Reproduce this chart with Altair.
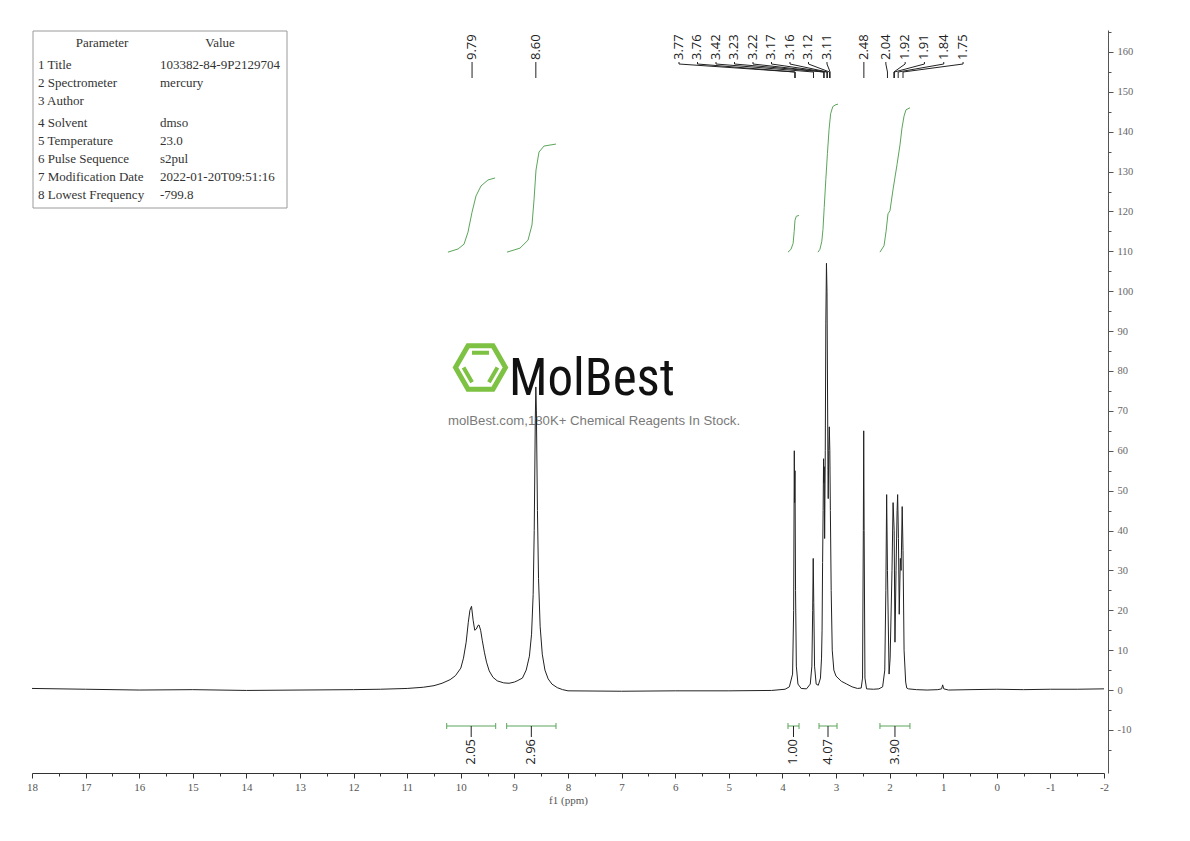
import altair as alt
import pandas as pd

# ---------------- spectrum: (ppm, intensity) vertices ----------------
spec_ppm = [
    18.0, 17.0, 16.0, 15.0, 14.0, 13.0, 12.0, 11.5, 11.0, 10.7, 10.5, 10.35, 10.2, 10.1,
    10.0, 9.95, 9.9, 9.86, 9.83, 9.80, 9.77, 9.74, 9.71, 9.68, 9.66, 9.63, 9.60, 9.56,
    9.52, 9.47, 9.40, 9.32, 9.2, 9.1, 9.0, 8.95, 8.85, 8.78, 8.72, 8.68, 8.65, 8.63,
    8.61, 8.60, 8.59, 8.57, 8.55, 8.52, 8.48, 8.43, 8.37, 8.30, 8.2, 8.1, 8.0, 7.0,
    6.0, 5.0, 4.2, 3.95, 3.87, 3.81, 3.79, 3.778, 3.772, 3.765, 3.755, 3.74, 3.71, 3.65,
    3.55, 3.48, 3.45, 3.435, 3.425, 3.415, 3.40, 3.37, 3.33, 3.29, 3.27, 3.26, 3.25, 3.24,
    3.232, 3.226, 3.22, 3.212, 3.20, 3.19, 3.178, 3.168, 3.16, 3.15, 3.145, 3.135, 3.125, 3.115,
    3.105, 3.09, 3.07, 3.04, 3.0, 2.9, 2.8, 2.7, 2.6, 2.53, 2.505, 2.49, 2.483, 2.475,
    2.46, 2.43, 2.3, 2.2, 2.13, 2.09, 2.07, 2.055, 2.04, 2.01, 1.99, 1.955, 1.935, 1.915,
    1.90, 1.88, 1.86, 1.85, 1.835, 1.82, 1.80, 1.785, 1.765, 1.75, 1.73, 1.70, 1.68, 1.65,
    1.5, 1.3, 1.1, 1.03, 1.01, 0.99, 0.9, 0.5, 0.0, -0.5, -1.0, -1.5, -2.0,
]
spec_val = [
    0.4, 0.2, 0.0, 0.1, -0.1, 0.0, 0.1, 0.2, 0.4, 0.7, 1.1, 1.7, 2.6, 3.6,
    5.5, 8.0, 12.0, 17.0, 20.0, 21.0, 17.5, 15.0, 15.3, 16.2, 16.3, 15.0, 12.5, 9.5,
    7.0, 4.8, 3.2, 2.3, 1.8, 1.7, 2.0, 2.3, 3.0, 5.0, 8.5, 14.0, 24.0, 40.0,
    68.0, 76.0, 70.0, 45.0, 28.0, 16.0, 9.0, 5.0, 2.8, 1.5, 0.6, 0.1, -0.2, -0.3,
    -0.2, -0.2, -0.1, 0.2, 0.8, 4.0, 20.0, 60.0, 47.0, 55.0, 25.0, 6.0, 1.5, 0.4,
    0.3, 1.5, 6.0, 20.0, 33.0, 22.0, 6.0, 1.5, 1.2, 3.0, 8.0, 15.0, 32.0, 45.0,
    58.0, 52.0, 56.0, 38.0, 60.0, 92.0, 107.0, 100.0, 80.0, 55.0, 48.0, 60.0, 66.0, 60.0,
    45.0, 25.0, 10.0, 5.0, 3.5, 2.2, 1.5, 0.8, 0.4, 0.5, 3.0, 40.0, 65.0, 40.0,
    3.0, 0.3, 0.2, 0.3, 0.8, 5.0, 25.0, 49.0, 30.0, 4.0, 8.0, 30.0, 47.0, 40.0,
    12.0, 30.0, 45.0, 49.0, 38.0, 19.0, 33.0, 30.0, 46.0, 35.0, 10.0, 2.0, 0.5, 0.3,
    0.1, 0.0, 0.1, 0.3, 1.3, 0.3, 0.0, 0.1, 0.2, 0.1, 0.2, 0.2, 0.3,
]
assert len(spec_ppm) == len(spec_val)

# ---------------- integral curves ----------------
int1_ppm = [10.24, 10.05, 9.94, 9.866, 9.791, 9.716, 9.623, 9.493, 9.36]
int1_val = [109.8, 110.6, 111.8, 114.8, 119.8, 123.9, 126.4, 127.9, 128.4]
int2_ppm = [9.138, 8.896, 8.746, 8.672, 8.634, 8.597, 8.541, 8.448, 8.224]
int2_val = [109.8, 110.8, 112.8, 116.6, 122.9, 130.4, 134.9, 136.4, 136.9]
int3_ppm = [3.896, 3.84, 3.80, 3.78, 3.765, 3.74, 3.69]
int3_val = [109.8, 110.5, 112.0, 115.0, 117.8, 118.8, 119.0]
int4_ppm = [3.336, 3.30, 3.265, 3.243, 3.22, 3.19, 3.16, 3.13, 3.10, 3.06, 3.0, 2.963]
int4_val = [109.8, 110.5, 112.5, 115.5, 121.0, 128.0, 134.5, 140.5, 144.5, 146.3, 146.8, 146.9]
int5_ppm = [2.18, 2.104, 2.067, 2.03, 1.993, 1.937, 1.862, 1.806, 1.769, 1.731, 1.694, 1.619]
int5_val = [109.8, 111.4, 114.9, 119.4, 120.2, 125.4, 131.7, 136.7, 140.9, 143.9, 145.5, 146.0]

# ---------------- integration brackets ----------------
br_start = [10.263, 9.144, 3.896, 3.317, 2.18]
br_end = [9.349, 8.224, 3.69, 2.981, 1.62]
br_text = ["2.05", "2.96", "1.00", "4.07", "3.90"]

# ---------------- peak picking ----------------
peak_groups = [
    [9.79],
    [8.60],
    [3.77, 3.76, 3.42, 3.23, 3.22, 3.17, 3.16, 3.12, 3.11],
    [2.48],
    [2.04, 1.92, 1.91, 1.84, 1.75],
]

# ---------------- parameter table ----------------
param_header = ["Parameter", "Value"]
param_names = ["1 Title", "2 Spectrometer", "3 Author", "4 Solvent", "5 Temperature",
               "6 Pulse Sequence", "7 Modification Date", "8 Lowest Frequency"]
param_values = ["103382-84-9P2129704", "mercury", "", "dmso", "23.0", "s2pul",
                "2022-01-20T09:51:16", "-799.8"]

watermark_title = "MolBest"
watermark_sub = "molBest.com,180K+ Chemical Reagents In Stock."

# ---------------- axes ticks ----------------
x_major = list(range(18, -3, -1))
x_minor = [v + 0.5 for v in range(17, -3, -1)]
y_major = list(range(-10, 161, 10))
y_minor = list(range(-15, 166, 10))

# ================= layout =================
W, H = 1072, 743
PX_PER_PPM = W / 20.0
xscale = alt.Scale(domain=[18, -2], nice=False, zero=False)
yscale = alt.Scale(domain=[-20.8, 165.5], nice=False, zero=False)
SERIF = "Liberation Serif"
SANS = "Open Sans"
GREEN = "#5aa55a"
INK = "#222222"


def X(field, **kw):
    return alt.X(field, type="quantitative", scale=xscale, axis=None, **kw)


def Y(field):
    return alt.Y(field, type="quantitative", scale=yscale, axis=None)


minus_fix = "replace(datum.label, '\u2212', '-')"

# --- spectrum with main axes ---
spec_df = pd.DataFrame({"ppm": spec_ppm, "val": spec_val})
spectrum = alt.Chart(spec_df).mark_line(color=INK, strokeWidth=1).encode(
    x=alt.X("ppm:Q", scale=xscale, axis=alt.Axis(
        orient="bottom", values=x_major, tickSize=5, tickColor="#333", domainColor="#333",
        labelFont=SERIF, labelFontSize=11, labelColor="#555", labelPadding=3, labelFlush=False,
        labelExpr=minus_fix, grid=False, title="f1 (ppm)", titleFont=SERIF, titleFontSize=11,
        titleFontWeight="normal", titleColor="#555", titlePadding=2)),
    y=alt.Y("val:Q", scale=yscale, axis=alt.Axis(
        orient="right", offset=4, values=y_major, tickSize=5, tickColor="#555",
        domainColor="#555", labelFont=SERIF, labelFontSize=10.5, labelColor="#666",
        labelPadding=4, labelFlush=False, labelExpr=minus_fix, grid=False, title=None)),
)

# --- minor ticks ---
minor = alt.Chart(pd.DataFrame({"ppm": [18.0], "val": [0.0]})).mark_point(opacity=0).encode(
    x=alt.X("ppm:Q", scale=xscale, axis=alt.Axis(
        orient="bottom", values=x_minor, tickSize=3, tickColor="#333", labels=False,
        domain=False, grid=False, title=None)),
    y=alt.Y("val:Q", scale=yscale, axis=alt.Axis(
        orient="right", offset=4, values=y_minor, tickSize=3, tickColor="#555", labels=False,
        domain=False, grid=False, title=None)),
)

# --- integrals ---
int_rows = []
for gi, (pp, vv) in enumerate([(int1_ppm, int1_val), (int2_ppm, int2_val), (int3_ppm, int3_val),
                               (int4_ppm, int4_val), (int5_ppm, int5_val)]):
    for p, v in zip(pp, vv):
        int_rows.append({"grp": gi, "ppm": p, "val": v})
integrals = alt.Chart(pd.DataFrame(int_rows)).mark_line(color=GREEN, strokeWidth=1).encode(
    x=X("ppm"), y=Y("val"), detail="grp:N")

# --- brackets ---
br_df = pd.DataFrame({"s": br_start, "e": br_end, "t": br_text})
br_df["m"] = (br_df["s"] + br_df["e"]) / 2
BR_Y = 696
br_h = alt.Chart(br_df).mark_rule(color=GREEN, strokeWidth=1).encode(
    x=X("s"), x2="e:Q", y=alt.value(BR_Y))
br_l = alt.Chart(br_df).mark_rule(color=GREEN, strokeWidth=1).encode(
    x=X("s"), y=alt.value(BR_Y - 3), y2=alt.value(BR_Y + 3))
br_r = alt.Chart(br_df).mark_rule(color=GREEN, strokeWidth=1).encode(
    x=X("e"), y=alt.value(BR_Y - 3), y2=alt.value(BR_Y + 3))
br_c = alt.Chart(br_df).mark_rule(color=INK, strokeWidth=1).encode(
    x=X("m"), y=alt.value(BR_Y), y2=alt.value(BR_Y + 11))
br_t = alt.Chart(br_df).mark_text(angle=270, align="right", baseline="middle", font=SANS,
                                  fontSize=13, color=INK).encode(
    x=X("m"), y=alt.value(BR_Y + 13), text="t:N")

# --- peak labels ---
group_layout = {2: ("right", 3.168, 18.5), 4: ("left", 2.07, 19.3)}
lab_rows = []
for gi, g in enumerate(peak_groups):
    n = len(g)
    if gi in group_layout:
        mode, anchor, step = group_layout[gi]
        d = step / PX_PER_PPM
        if mode == "right":
            pos = [anchor + (n - 1 - i) * d for i in range(n)]
        else:
            pos = [anchor - i * d for i in range(n)]
    else:
        pos = list(g)
    for p, lp in zip(g, pos):
        lab_rows.append({"peak": p, "lab": lp, "txt": f"{p:.2f}"})
lab_df = pd.DataFrame(lab_rows)
TXT_Y = 30
seg1 = alt.Chart(lab_df).mark_rule(color=INK, strokeWidth=1).encode(
    x=X("lab"), y=alt.value(TXT_Y + 2), y2=alt.value(TXT_Y + 4))
seg2 = alt.Chart(lab_df).mark_rule(color=INK, strokeWidth=1).encode(
    x=X("lab"), x2="peak:Q", y=alt.value(TXT_Y + 4), y2=alt.value(TXT_Y + 12))
seg3 = alt.Chart(lab_df).mark_rule(color=INK, strokeWidth=1).encode(
    x=X("peak"), y=alt.value(TXT_Y + 12), y2=alt.value(TXT_Y + 18))
lab_t = alt.Chart(lab_df).mark_text(angle=270, align="left", baseline="middle", font=SANS,
                                    fontSize=13, color=INK).encode(
    x=X("lab"), y=alt.value(TXT_Y), text="txt:N")

# --- parameter table ---
one = pd.DataFrame({"a": [0]})
TFS = 13
table_layers = [alt.Chart(one).mark_rect(fill="white", stroke="#9a9a9a", strokeWidth=1).encode(
    x=alt.value(1), x2=alt.value(255), y=alt.value(1), y2=alt.value(178))]
hdr_x = [70, 188]
for hx, ht in zip(hdr_x, param_header):
    table_layers.append(alt.Chart(one).mark_text(
        font=SERIF, fontSize=TFS, color="#333", align="center", baseline="middle", text=ht
    ).encode(x=alt.value(hx), y=alt.value(13)))
row_y = [35, 53, 71, 93, 111, 129, 147, 165]
for ry, nm, vl in zip(row_y, param_names, param_values):
    table_layers.append(alt.Chart(one).mark_text(
        font=SERIF, fontSize=TFS, color="#333", align="left", baseline="middle", text=nm
    ).encode(x=alt.value(6), y=alt.value(ry)))
    if vl:
        table_layers.append(alt.Chart(one).mark_text(
            font=SERIF, fontSize=TFS, color="#333", align="left", baseline="middle", text=vl
        ).encode(x=alt.value(128), y=alt.value(ry)))

# --- watermark ---
HEX = "M-1,0L-0.5,-0.866L0.5,-0.866L1,0L0.5,0.866L-0.5,0.866Z"
BARS = "M-0.34,-0.586L0.34,-0.586M-0.678,0L-0.338,0.588M0.678,0L0.338,0.588"
logo_green = "#7dc242"
wm_layers = [
    alt.Chart(one).mark_point(shape=HEX, size=2500, filled=False, stroke=logo_green,
                              strokeWidth=5, opacity=1).encode(x=alt.value(448.5), y=alt.value(337.5)),
    alt.Chart(one).mark_point(shape=BARS, size=2500, filled=False, stroke=logo_green,
                              strokeWidth=4, opacity=1).encode(
        x=alt.value(448.5), y=alt.value(337.5)),
    alt.Chart(one).mark_text(font="Roboto Condensed, Open Sans Condensed, DejaVu Sans Condensed, sans-serif",
                             fontSize=51, color="#111", align="left", baseline="alphabetic",
                             text=watermark_title).encode(x=alt.value(477), y=alt.value(365)),
    alt.Chart(one).mark_text(font="Liberation Sans", fontSize=13.2, color="#7a7a7a", align="left",
                             baseline="middle", text=watermark_sub).encode(
        x=alt.value(416), y=alt.value(391)),
]

layers = [minor] + table_layers + wm_layers + [spectrum, integrals, br_h, br_l, br_r, br_c,
                                              br_t, seg1, seg2, seg3, lab_t]

chart = alt.layer(*layers).properties(
    width=W, height=H,
    autosize=alt.AutoSizeParams(type="none"),
    padding={"left": 24, "top": 22, "right": 70, "bottom": 50},
    background="white",
).resolve_axis(x="independent", y="independent").configure_view(stroke=None)

chart.save("out.html", embed_options={"renderer": "svg", "actions": False})
